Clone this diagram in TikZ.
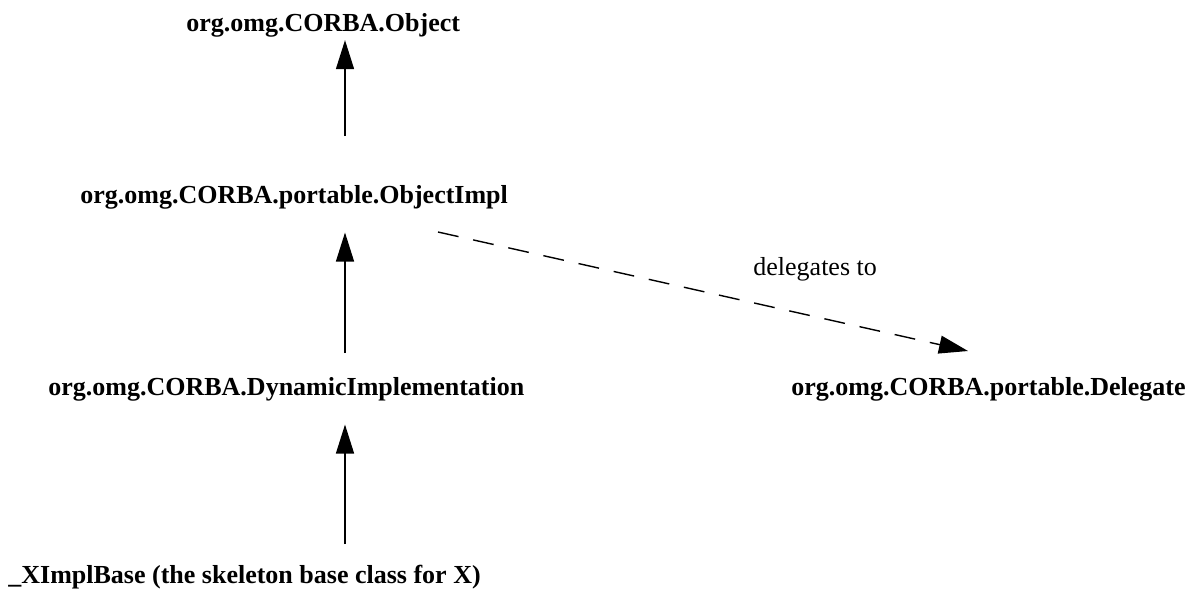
\documentclass[tikz,border=0pt]{standalone}
\usepackage{fontspec}
\setmainfont{Liberation Serif}
\usetikzlibrary{arrows.meta}
\tikzset{
  cls/.style={anchor=base west, inner sep=0pt, font=\fontsize{13pt}{15pt}\selectfont\bfseries},
  isa/.style={line width=0.7pt, -{Triangle[length=14.5pt,width=9pt]}},
  deleg/.style={isa, dash pattern=on 10.5pt off 7.5pt},
}
\begin{document}
\begin{tikzpicture}[x=0.5pt,y=-0.5pt]
    \useasboundingbox (0,0) rectangle (1194,595);
    % class names
    \node[cls] (obj)   at (186,31)  {org.omg.CORBA.Object};
    \node[cls] (impl)  at (80,203)  {org.omg.CORBA.portable.ObjectImpl};
    \node[cls] (dyn)   at (48,395)  {org.omg.CORBA.DynamicImplementation};
    \node[cls] (skel)  at (8,583)   {\_XImplBase (the skeleton base class for X)};
    \node[cls] (dlg)   at (791,395) {org.omg.CORBA.portable.Delegate};
    \node[anchor=base west, inner sep=0pt, font=\fontsize{13pt}{15pt}\selectfont] (lbl) at (753,275) {delegates to};
    % inheritance
    \coordinate (t1) at (345,136);
    \coordinate (t2) at (345,353);
    \coordinate (t3) at (345,544);
    \coordinate (t4) at (438,232);
    \coordinate (h4) at (968,351);
    \draw[isa, shorten >=1.5pt]  (t1) -- (t1 |- obj.south);
    \draw[isa, shorten >=11.7pt] (t2) -- (t2 |- impl.south);
    \draw[isa, shorten >=11.7pt] (t3) -- (t3 |- dyn.south);
    \draw[deleg] (t4) -- (h4);
\end{tikzpicture}
\end{document}
